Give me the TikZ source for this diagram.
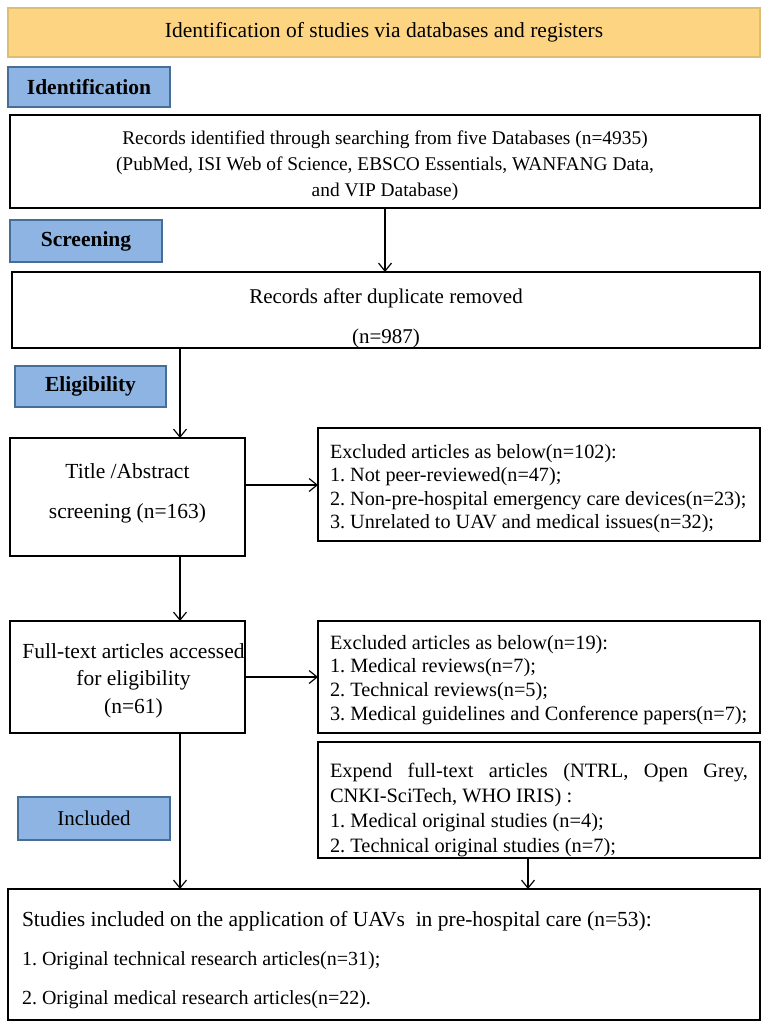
\documentclass[tikz,border=0pt]{standalone}
\usepackage{fontspec}
\setmainfont{Liberation Serif}
\usetikzlibrary{arrows.meta,calc}
\definecolor{hdrfill}{RGB}{253,213,130}
\definecolor{hdrdraw}{RGB}{222,190,115}
\definecolor{lblfill}{RGB}{141,180,226}
\definecolor{lbldraw}{RGB}{70,110,150}
% #1 height, #2 width, #3 font size, #4 baselineskip, #5 alignment, #6 first baseline from top, #7 text
\newcommand{\boxtext}[7]{\parbox[c][#1][t]{#2}{\frenchspacing\fontsize{#3}{#4}\selectfont#5%
  \vspace*{\dimexpr#6-0.7\baselineskip\relax}#7}}
\newcommand{\shiftline}[1]{\mbox{\hspace*{12pt}#1}}
\begin{document}
\begin{tikzpicture}[x=1pt,y=-1pt,
  every node/.style={inner sep=0pt, outer sep=0pt},
  hdr/.style={draw=hdrdraw, fill=hdrfill, line width=1.2pt, font=\fontsize{21.5}{25}\selectfont},
  lbl/.style={draw=lbldraw, fill=lblfill, line width=1.2pt, font=\fontsize{21.5}{25}\selectfont\bfseries},
  lblplain/.style={draw=lbldraw, fill=lblfill, line width=1.2pt, font=\fontsize{21}{25}\selectfont},
  box/.style={draw=black, line width=1.5pt},
  arr/.style={line width=1.2pt, -{Straight Barb[length=8pt,width=13pt,line width=1.2pt]}}
]
\useasboundingbox (0,0) rectangle (767,1027);
\fill[white] (0,0) rectangle (767,1027);

\node[hdr, minimum width=752pt, minimum height=49pt] (hdr) at (384,32.5) {\raisebox{-2pt}{Identification of studies via databases and registers}};

\node[lbl, minimum width=162pt, minimum height=40pt] (lid) at (89,87) {Identification};
\node[box] (rec) at (385,161.5)
  {\boxtext{93pt}{750pt}{19.4}{26}{\centering}{30pt}{%
   \strut Records identified through searching from five Databases (n=4935)\\
   \strut (PubMed, ISI Web of Science, EBSCO Essentials, WANFANG Data,\\
   \strut and VIP Database)}};

\node[lbl, minimum width=152pt, minimum height=42pt] (lsc) at (86,241) {Screening};
\node[box] (dup) at (386,310)
  {\boxtext{76pt}{748pt}{21}{40}{\centering}{31pt}{%
   \strut Records after duplicate removed\\
   \strut (n=987)}};

\node[lbl, minimum width=151pt, minimum height=41pt] (lel) at (90.5,386.5) {Eligibility};
\node[box] (tit) at (127.5,497)
  {\boxtext{118pt}{235pt}{21.5}{40}{\centering}{40pt}{%
   \strut Title /Abstract\\
   \strut screening (n=163)}};
\node[box, inner xsep=12pt] (ex1) at (539,484.5)
  {\boxtext{113pt}{418pt}{20.2}{23.5}{\raggedright}{30pt}{%
   \strut Excluded articles as below(n=102):\\
   \strut 1. Not peer-reviewed(n=47);\\
   \strut 2. Non-pre-hospital emergency care devices(n=23);\\
   \strut 3. Unrelated to UAV and medical issues(n=32);}};

\node[box] (ful) at (127.5,677)
  {\boxtext{112pt}{235pt}{21.5}{27.5}{\centering}{37pt}{%
   \strut\shiftline{Full-text articles accessed}\\
   \strut\shiftline{for eligibility}\\
   \strut\shiftline{(n=61)}}};
\node[box, inner xsep=12pt] (ex2) at (539,677)
  {\boxtext{112pt}{418pt}{20.3}{23.7}{\raggedright}{28pt}{%
   \strut Excluded articles as below(n=19):\\
   \strut 1. Medical reviews(n=7);\\
   \strut 2. Technical reviews(n=5);\\
   \strut 3. Medical guidelines and Conference papers(n=7);}};

\node[box, inner xsep=12pt] (exp) at (539,800)
  {\boxtext{116pt}{418pt}{20.4}{25}{}{35pt}{%
   \strut Expend full-text articles (NTRL, Open Grey,\linebreak
   \strut CNKI-SciTech, WHO IRIS) :\\
   \strut 1. Medical original studies (n=4);\\
   \strut 2. Technical original studies (n=7);}};

\node[lblplain, minimum width=152pt, minimum height=43pt] (lin) at (94,818.5) {Included};

\node[box, inner xsep=14pt] (bot) at (384,954.5)
  {\boxtext{131pt}{724pt}{20}{39}{\raggedright}{37pt}{%
   \strut{\fontsize{21.5}{39}\selectfont Studies included on the application of UAVs\ \ in pre-hospital care (n=53):}\\
   \strut 1. Original technical research articles(n=31);\\
   \strut 2. Original medical research articles(n=22).}};

\coordinate (cx) at (180,0);
\coordinate (cy) at (528,0);
\coordinate (cr) at (385,0);
\coordinate (ya) at (0,485);

\draw[arr] (rec.south -| cr) -- (dup.north -| cr);
\draw[arr] (dup.south -| cx) -- (tit.north -| cx);
\draw[arr] (tit.east |- ya) -- (ex1.west |- ya);
\draw[arr] (tit.south -| cx) -- (ful.north -| cx);
\draw[arr] (ful.east) -- (ex2.west);
\draw[arr] (ful.south -| cx) -- (bot.north -| cx);
\draw[arr] (exp.south -| cy) -- (bot.north -| cy);
\end{tikzpicture}
\end{document}
